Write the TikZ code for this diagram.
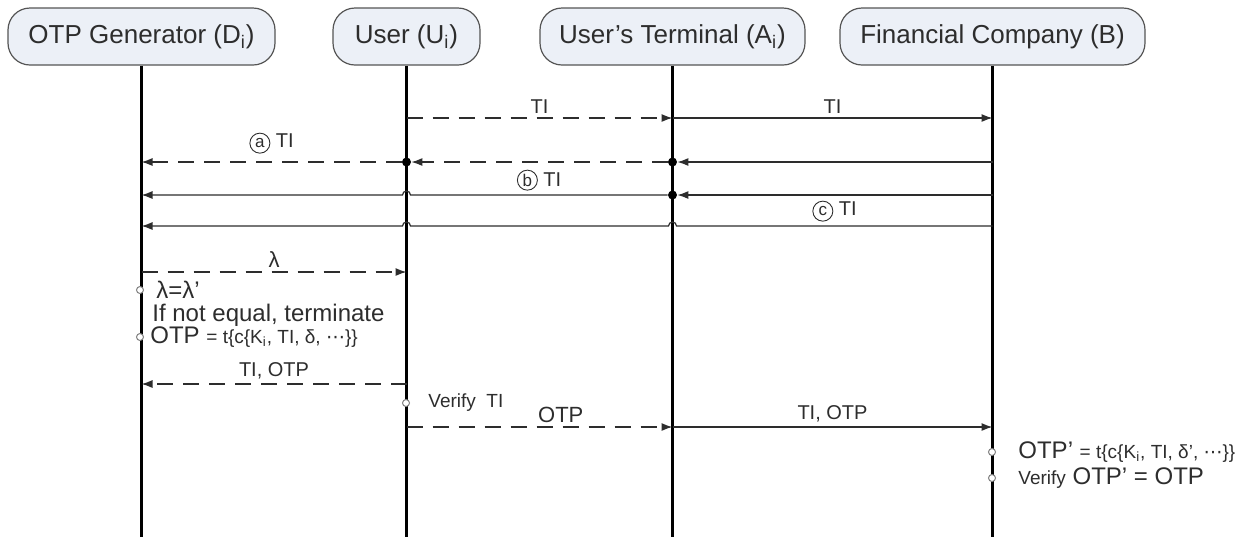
\documentclass[tikz,border=0pt]{standalone}
\usepackage{fontspec}
\setmainfont{Liberation Sans}
\newfontfamily\symfont{DejaVu Sans}
\usetikzlibrary{arrows.meta}

\definecolor{boxfill}{RGB}{236,240,247}
\definecolor{boxline}{RGB}{85,85,85}
\definecolor{inkgray}{RGB}{45,45,45}

\newcommand\sm[1]{{\fontsize{9.5}{11}\selectfont #1}}
\newcommand\circled[1]{\tikz[baseline=(cl.base)]\node[circle, draw=inkgray, line width=0.45pt,
    inner sep=0.4pt, minimum size=10pt] (cl) {\fontsize{8.5}{9}\selectfont #1};}

\tikzset{
  party/.style={draw=boxline, fill=boxfill, line width=0.6pt, rounded corners=11pt,
    minimum height=28.5pt, inner sep=0pt, text=inkgray, font=\fontsize{13}{15}\selectfont},
  life/.style={line width=1.6pt, black},
  msg/.style={line width=0.6pt, inkgray, -{Latex[length=5.5pt,width=4pt]}},
  dmsg/.style={msg, dash pattern=on 8pt off 5pt},
  lbl/.style={text=inkgray, font=\fontsize{10}{12}\selectfont, inner sep=2pt},
  note/.style={text=inkgray, font=\fontsize{12}{14}\selectfont, anchor=west, inner sep=1pt},
  tick/.style={circle, draw=gray, fill=white, line width=0.5pt, inner sep=0pt, minimum size=3.5pt},
  junc/.style={circle, fill=black, inner sep=0pt, minimum size=4.5pt},
}

\begin{document}
\begin{tikzpicture}[x=0.5pt,y=-0.5pt]
    \useasboundingbox (0,0) rectangle (1258,537);

    % Draw participants
    \node[party, minimum width=133.5pt] (D) at (141.5,36.5) {OTP Generator (D\textsubscript{i})};
    \node[party, minimum width=73.5pt] (U) at (406.5,36.5) {User (U\textsubscript{i})};
    \node[party, minimum width=132.5pt] (A) at (672.5,36.5) {User's Terminal (A\textsubscript{i})};
    \node[party, minimum width=152.5pt] (B) at (992.5,36.5) {Financial Company (B)};

    % Draw lifelines
    \coordinate (bot) at (0,537);
    \foreach \p in {D,U,A,B}
        \draw[life] (\p.south) -- (\p |- bot);

    % Define message rows
    \coordinate (r1) at (0,118);
    \coordinate (r2) at (0,162);
    \coordinate (r3) at (0,195);
    \coordinate (r4) at (0,226);
    \coordinate (r5) at (0,272);
    \coordinate (r6) at (0,384);
    \coordinate (r7) at (0,427);

    % Define junctions and hops
    \node[junc] (jU2) at (U |- r2) {};
    \node[junc] (jA2) at (A |- r2) {};
    \node[junc] (jA3) at (A |- r3) {};
    \coordinate (hU3) at (U |- r3);
    \coordinate (hU4) at (U |- r4);
    \coordinate (hA4) at (A |- r4);

    % Request TI
    \draw[dmsg] (U |- r1) -- node[lbl,above] {TI} (A |- r1);
    \draw[msg] (A |- r1) -- node[lbl,above] {TI} (B |- r1);

    % Deliver TI, case a
    \draw[msg] (B |- r2) -- (jA2);
    \draw[dmsg] (jA2) -- (jU2);
    \draw[dmsg] (jU2) -- node[lbl,above,yshift=2pt] {\circled{a} TI} (D |- r2);

    % Deliver TI, case b
    \draw[msg] (B |- r3) -- (jA3);
    \draw[msg] (jA3) -- node[lbl,above] {\circled{b} TI} ([xshift=2pt]hU3)
        arc[start angle=0, end angle=180, radius=2pt] -- (D |- r3);

    % Deliver TI, case c
    \draw[msg] (B |- r4) -- node[lbl,above] {\circled{c} TI} ([xshift=2pt]hA4)
        arc[start angle=0, end angle=180, radius=2pt] -- ([xshift=2pt]hU4)
        arc[start angle=0, end angle=180, radius=2pt] -- (D |- r4);

    % Lambda check
    \draw[dmsg] (D |- r5) -- node[lbl,above,font=\fontsize{11}{12}\selectfont] {λ} (U |- r5);
    \node[tick] (tD1) at (140,290) {};
    \node[tick] (tD2) at (140,337) {};
    \node[note] (eqchk) at ([xshift=5pt]tD1.east) {λ=λ'};
    \node[note] (term) at (150,315) {If not equal, terminate};
    \node[note] (otpgen) at ([xshift=2pt]tD2.east) {OTP \sm{= t\{c\{K\textsubscript{i}, TI, δ, {\symfont ⋯}\}\}}};

    % Return OTP
    \draw[dmsg] (U |- r6) -- node[lbl,above] {TI, OTP} (D |- r6);
    \node[tick] (tU1) at (406,403) {};
    \node[note, font=\fontsize{9.5}{11}\selectfont] (vrfy) at ([xshift=8pt]tU1.east) {Verify\ \ TI};

    % Send OTP
    \draw[dmsg] (U |- r7) -- node[lbl,above,pos=0.58,font=\fontsize{11}{12}\selectfont] {OTP} (A |- r7);
    \draw[msg] (A |- r7) -- node[lbl,above] {TI, OTP} (B |- r7);

    % Verification at company
    \node[tick] (tB1) at (992,452) {};
    \node[tick] (tB2) at (992,478) {};
    \node[note] (otpchk) at ([xshift=10pt]tB1.east) {OTP' \sm{= t\{c\{K\textsubscript{i}, TI, δ', {\symfont ⋯}\}\}}};
    \node[note] (vrfyB) at ([xshift=10pt]tB2.east) {\sm{Verify} OTP' = OTP};
\end{tikzpicture}
\end{document}
